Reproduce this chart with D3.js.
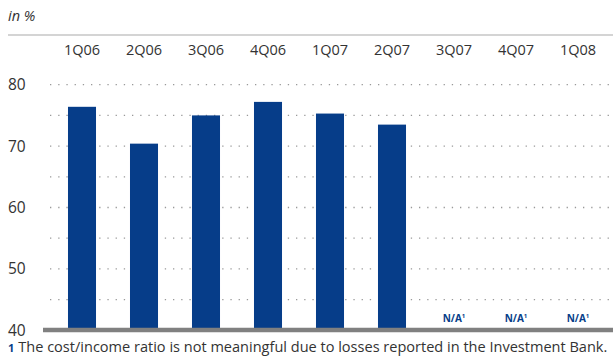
<!DOCTYPE html>
<html>
<head>
<meta charset="utf-8">
<script src="https://cdn.jsdelivr.net/npm/d3@7"></script>
<style>
  body { margin: 0; background: #fff; }
  svg text { font-family: "Open Sans", "Noto Sans", sans-serif; }
</style>
</head>
<body>
<div id="chart"></div>
<script>
var quarters = ["1Q06", "2Q06", "3Q06", "4Q06", "1Q07", "2Q07", "3Q07", "4Q07", "1Q08"];
var ratios = [76.4, 70.4, 75.0, 77.2, 75.3, 73.5, null, null, null];
var yTicks = [40, 50, 60, 70, 80];
var gridValues = [45, 50, 55, 60, 65, 70, 75, 80];
var footnote = "The cost/income ratio is not meaningful due to losses reported in the Investment Bank.";

var width = 613, height = 356;
var svg = d3.select("#chart").append("svg")
    .attr("width", width)
    .attr("height", height);

var x = d3.scaleBand()
    .domain(quarters)
    .range([51, 609])
    .paddingInner(0.548)
    .paddingOuter(0.274);

var y = d3.scaleLinear()
    .domain([40, 80])
    .range([330.3, 84.7]);

// unit label + top rule
svg.append("text")
    .attr("x", 8).attr("y", 21)
    .attr("font-size", 14.5)
    .attr("font-style", "italic")
    .attr("fill", "#333")
    .text("in %");

svg.append("line")
    .attr("x1", 8).attr("x2", width)
    .attr("y1", 35).attr("y2", 35)
    .attr("stroke", "#aaa")
    .attr("stroke-width", 1.2);

// category labels on top
svg.selectAll(".cat")
    .data(quarters).enter().append("text")
    .attr("class", "cat")
    .attr("x", function(d){ return x(d) + x.bandwidth() / 2; })
    .attr("y", 55)
    .attr("text-anchor", "middle")
    .attr("font-size", 14.5)
    .attr("fill", "#333")
    .text(function(d){ return d; });

// dotted grid
svg.selectAll(".grid")
    .data(gridValues).enter().append("line")
    .attr("class", "grid")
    .attr("x1", 50).attr("x2", 610)
    .attr("y1", function(d){ return y(d); })
    .attr("y2", function(d){ return y(d); })
    .attr("stroke", "#999")
    .attr("stroke-width", 1.3)
    .attr("stroke-dasharray", "1.3,6.9");

// y tick labels
svg.selectAll(".ytick")
    .data(yTicks).enter().append("text")
    .attr("class", "ytick")
    .attr("x", 8)
    .attr("y", function(d){ return y(d) + 5.5; })
    .attr("font-size", 15.5)
    .attr("fill", "#333")
    .text(function(d){ return d; });

// bars
var withData = quarters.map(function(q, i){ return { q: q, v: ratios[i] }; });

svg.selectAll(".bar")
    .data(withData.filter(function(d){ return d.v !== null; })).enter().append("rect")
    .attr("class", "bar")
    .attr("x", function(d){ return x(d.q); })
    .attr("width", x.bandwidth())
    .attr("y", function(d){ return y(d.v); })
    .attr("height", function(d){ return y(40) - y(d.v); })
    .attr("fill", "#063d89");

// N/A labels
var na = svg.selectAll(".na")
    .data(withData.filter(function(d){ return d.v === null; })).enter().append("text")
    .attr("class", "na")
    .attr("x", function(d){ return x(d.q) + x.bandwidth() / 2; })
    .attr("y", 322)
    .attr("text-anchor", "middle")
    .attr("font-size", 10)
    .attr("font-weight", "bold")
    .attr("fill", "#063d89");
na.append("tspan").text("N/A");
na.append("tspan").attr("font-size", 6).attr("dy", -4).text("1");

// baseline
svg.append("line")
    .attr("x1", 43).attr("x2", width)
    .attr("y1", 330).attr("y2", 330)
    .attr("stroke", "#808080")
    .attr("stroke-width", 4.5);

// footnote
var fn = svg.append("text")
    .attr("x", 8).attr("y", 352)
    .attr("font-size", 14.5)
    .attr("fill", "#333");
fn.append("tspan")
    .attr("fill", "#063d89")
    .attr("font-weight", "bold")
    .attr("font-size", 11)
    .text("1");
fn.append("tspan")
    .attr("dx", 4)
    .attr("textLength", 589)
    .attr("lengthAdjust", "spacingAndGlyphs")
    .text(footnote);
</script>
</body>
</html>
